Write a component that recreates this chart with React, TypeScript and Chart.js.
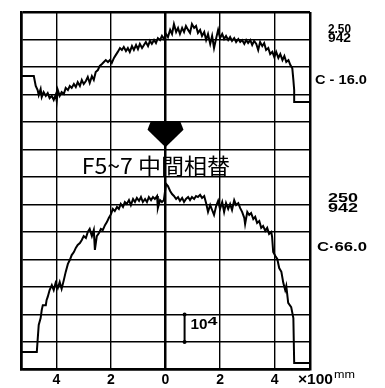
import React, { useEffect, useRef } from 'react';
import { Chart, registerables } from 'chart.js';

Chart.register(...registerables);

// ---- axes ----
const X_MIN = -5.3;
const X_MAX = 5.3;
const Y_MIN = 0;
const Y_MAX = 13;
const xTickValues = [-5.3, -4, -2, 0, 2, 4, 5.3];

// ---- upper trace (C-16.0) ----
const topX = [-5.3, -4.83, -4.76, -4.69, -4.65, -4.58, -4.54, -4.47, -4.39, -4.32, -4.25, -4.17, -4.1, -4.03, -3.99, -3.95, -3.88, -3.81, -3.73, -3.66, -3.58, -3.51, -3.44, -3.36, -3.29, -3.22, -3.14, -3.07, -3.0, -2.92, -2.85, -2.78, -2.7, -2.63, -2.56, -2.48, -2.41, -2.33, -2.26, -2.19, -2.11, -2.04, -1.97, -1.89, -1.82, -1.75, -1.67, -1.6, -1.53, -1.45, -1.38, -1.31, -1.23, -1.16, -1.08, -1.01, -0.94, -0.86, -0.79, -0.72, -0.64, -0.57, -0.5, -0.42, -0.35, -0.28, -0.2, -0.13, -0.06, 0.02, 0.09, 0.17, 0.24, 0.31, 0.39, 0.46, 0.53, 0.61, 0.68, 0.75, 0.83, 0.9, 0.97, 1.05, 1.12, 1.19, 1.27, 1.34, 1.42, 1.49, 1.56, 1.64, 1.71, 1.78, 1.86, 1.93, 2.0, 2.08, 2.15, 2.22, 2.3, 2.37, 2.44, 2.52, 2.59, 2.67, 2.74, 2.81, 2.89, 2.96, 3.03, 3.11, 3.18, 3.25, 3.33, 3.4, 3.47, 3.55, 3.62, 3.69, 3.77, 3.84, 3.92, 3.99, 4.06, 4.14, 4.21, 4.29, 4.36, 4.43, 4.51, 4.58, 4.65, 4.69, 4.72, 4.72, 5.3];
const topY = [10.67, 10.67, 10.31, 10.16, 9.98, 10.2, 9.91, 10.09, 9.95, 10.05, 9.87, 9.95, 9.8, 9.98, 9.76, 10.16, 9.95, 10.09, 10.02, 10.24, 10.16, 10.31, 10.24, 10.38, 10.27, 10.45, 10.31, 10.53, 10.38, 10.49, 10.64, 10.42, 10.67, 10.53, 10.82, 10.89, 11.04, 11.11, 11.18, 11.25, 11.18, 11.25, 11.15, 11.33, 11.44, 11.55, 11.69, 11.62, 11.73, 11.58, 11.69, 11.55, 11.76, 11.62, 11.8, 11.65, 11.84, 11.69, 11.8, 11.91, 11.76, 11.95, 11.84, 11.98, 11.87, 12.05, 11.98, 12.13, 12.02, 12.2, 12.09, 12.35, 12.2, 12.56, 12.27, 12.42, 12.2, 12.42, 12.27, 12.49, 12.35, 12.24, 12.56, 12.42, 12.49, 12.24, 12.35, 12.13, 12.27, 11.98, 12.2, 11.84, 12.13, 11.69, 12.05, 12.35, 12.05, 12.2, 12.02, 12.13, 11.98, 12.09, 11.95, 12.05, 11.91, 12.02, 11.91, 11.98, 11.84, 11.98, 11.87, 11.98, 11.8, 11.95, 11.84, 11.62, 11.91, 11.76, 11.87, 11.62, 11.69, 11.47, 11.55, 11.36, 11.55, 11.33, 11.47, 11.25, 11.4, 11.18, 11.25, 11.07, 10.96, 10.53, 10.16, 9.73, 9.73];

// ---- lower trace (C-66.0) ----
const botX = [-5.3, -4.72, -4.69, -4.65, -4.58, -4.54, -4.5, -4.39, -4.36, -4.32, -4.25, -4.17, -4.1, -4.03, -3.95, -3.88, -3.81, -3.73, -3.66, -3.58, -3.51, -3.44, -3.36, -3.29, -3.22, -3.14, -3.07, -3.0, -2.92, -2.85, -2.78, -2.7, -2.63, -2.59, -2.52, -2.44, -2.37, -2.3, -2.22, -2.15, -2.08, -2.0, -1.93, -1.86, -1.78, -1.71, -1.64, -1.56, -1.49, -1.42, -1.34, -1.27, -1.19, -1.12, -1.05, -0.97, -0.9, -0.83, -0.75, -0.68, -0.61, -0.53, -0.46, -0.39, -0.31, -0.28, -0.2, -0.13, -0.06, 0.02, 0.09, 0.17, 0.24, 0.31, 0.39, 0.46, 0.53, 0.61, 0.68, 0.75, 0.83, 0.9, 0.97, 1.05, 1.12, 1.19, 1.27, 1.34, 1.42, 1.49, 1.56, 1.64, 1.71, 1.78, 1.86, 1.93, 2.0, 2.08, 2.15, 2.22, 2.3, 2.37, 2.44, 2.52, 2.59, 2.67, 2.74, 2.81, 2.89, 2.92, 3.0, 3.07, 3.14, 3.22, 3.29, 3.36, 3.44, 3.51, 3.58, 3.66, 3.73, 3.8, 3.88, 3.91, 3.95, 4.03, 4.1, 4.17, 4.25, 4.32, 4.39, 4.43, 4.5, 4.61, 4.69, 4.72, 5.3];
const botY = [0.64, 0.64, 1.07, 1.62, 1.87, 2.16, 2.34, 2.34, 2.53, 2.64, 2.89, 3.07, 2.89, 3.15, 2.96, 3.18, 2.93, 3.25, 3.55, 3.84, 3.98, 4.16, 4.27, 4.42, 4.53, 4.6, 4.71, 4.85, 4.78, 5.0, 5.11, 4.85, 5.07, 4.35, 4.85, 4.96, 5.11, 5.07, 5.25, 5.36, 5.51, 5.65, 5.84, 5.76, 5.91, 5.84, 6.02, 5.91, 6.09, 6.02, 6.16, 5.98, 6.2, 6.09, 6.24, 6.13, 6.27, 6.09, 6.2, 6.09, 6.27, 6.16, 6.27, 6.2, 6.31, 5.87, 6.16, 6.09, 6.16, 6.75, 6.67, 6.49, 6.38, 6.31, 6.2, 6.27, 6.13, 6.24, 6.09, 6.2, 6.27, 6.16, 6.27, 6.2, 6.31, 6.27, 6.35, 6.24, 6.31, 6.05, 5.73, 5.98, 5.8, 5.62, 5.95, 6.13, 5.84, 6.09, 5.73, 6.05, 5.84, 6.02, 5.8, 6.16, 5.98, 6.05, 5.87, 5.73, 5.51, 5.29, 5.73, 5.62, 5.69, 5.47, 5.55, 5.33, 5.4, 5.15, 5.22, 5.04, 5.15, 4.93, 5.0, 4.82, 4.27, 4.13, 4.02, 3.69, 3.55, 3.15, 2.89, 3.04, 2.42, 2.27, 1.87, 0.24, 0.24];

// ---- texts ----
const topLabels = ['2.50', '942', 'C - 16.0'];
const topLabelY = [12.35, 12.02, 10.53];
const botLabels = ['250', '942', 'C\u00b766.0'];
const botLabelY = [6.2, 5.84, 4.44];
const middleLabel = 'F5~7 中間相替';
const scaleBarLabel = '10';
const scaleBarSup = '4';
const unitLabel = '\u00d7100';
const unitSup = 'mm';

const INK = '#000000';

function fitText(ctx: CanvasRenderingContext2D, text: string, x: number, y: number, width: number, font: string, baseline: CanvasTextBaseline = 'middle') {
  ctx.save();
  ctx.font = font;
  const w = ctx.measureText(text).width;
  ctx.translate(x, y);
  ctx.scale(width / w, 1);
  ctx.textAlign = 'left';
  ctx.textBaseline = baseline;
  ctx.fillStyle = INK;
  ctx.fillText(text, 0, 0);
  ctx.restore();
}

const annotations = {
  id: 'annotations',
  afterDatasetsDraw(chart: any) {
    const { ctx, chartArea, scales } = chart;
    const xs = scales.x;
    const ys = scales.y;
    const R = chartArea.right;
    const LBL = "bold 12px 'Liberation Sans', Arial, sans-serif";

    // right-side labels
    fitText(ctx, topLabels[0], R + 18, ys.getPixelForValue(topLabelY[0]), 23, LBL);
    fitText(ctx, topLabels[1], R + 18, ys.getPixelForValue(topLabelY[1]), 23, LBL);
    fitText(ctx, topLabels[2], R + 5, ys.getPixelForValue(topLabelY[2]), 52, "bold 13px 'Liberation Sans', Arial, sans-serif");
    fitText(ctx, botLabels[0], R + 18, ys.getPixelForValue(botLabelY[0]), 30, LBL);
    fitText(ctx, botLabels[1], R + 18, ys.getPixelForValue(botLabelY[1]), 30, LBL);
    fitText(ctx, botLabels[2], R + 7, ys.getPixelForValue(botLabelY[2]), 50, "bold 13px 'Liberation Sans', Arial, sans-serif");

    // arrow
    const cx = xs.getPixelForValue(0);
    const ux = xs.getPixelForValue(1) - cx;
    ctx.save();
    ctx.fillStyle = INK;
    ctx.beginPath();
    ctx.moveTo(cx - 0.55 * ux, ys.getPixelForValue(9.0));
    ctx.lineTo(cx + 0.55 * ux, ys.getPixelForValue(9.0));
    ctx.lineTo(cx + 0.66 * ux, ys.getPixelForValue(8.72));
    ctx.lineTo(cx, ys.getPixelForValue(8.08));
    ctx.lineTo(cx - 0.66 * ux, ys.getPixelForValue(8.72));
    ctx.closePath();
    ctx.fill();
    ctx.restore();

    // middle label
    const ml = xs.getPixelForValue(-3.07);
    const mr = xs.getPixelForValue(2.37);
    fitText(ctx, middleLabel, ml, ys.getPixelForValue(7.1), mr - ml, "22px 'Noto Sans CJK JP', sans-serif", 'alphabetic');

    // scale bar 10^4
    const bx = xs.getPixelForValue(0.7);
    const b1 = ys.getPixelForValue(2);
    const b0 = ys.getPixelForValue(1);
    ctx.save();
    ctx.strokeStyle = INK;
    ctx.fillStyle = INK;
    ctx.lineWidth = 2;
    ctx.beginPath();
    ctx.moveTo(bx, b1);
    ctx.lineTo(bx, b0);
    ctx.stroke();
    ctx.beginPath(); ctx.arc(bx, b1, 2, 0, Math.PI * 2); ctx.fill();
    ctx.beginPath(); ctx.arc(bx, b0, 2, 0, Math.PI * 2); ctx.fill();
    ctx.restore();
    const tx = xs.getPixelForValue(0.92);
    fitText(ctx, scaleBarLabel, tx, ys.getPixelForValue(1.6), 17, "bold 14px 'Liberation Sans', Arial, sans-serif");
    fitText(ctx, scaleBarSup, tx + 17, ys.getPixelForValue(1.73), 10, "bold 11px 'Liberation Sans', Arial, sans-serif");

    // x unit label
    const yl = chartArea.bottom + 10.5;
    fitText(ctx, unitLabel, R - 12, yl, 35, "bold 14px 'Liberation Sans', Arial, sans-serif");
    fitText(ctx, unitSup, R + 24, yl - 5, 21, "10px 'Liberation Sans', Arial, sans-serif");
  },
};

export default function App() {
  const canvasRef = useRef<HTMLCanvasElement | null>(null);

  useEffect(() => {
    const canvas = canvasRef.current;
    if (!canvas) return;
    const topPoints = topX.map((x, i) => ({ x, y: topY[i] }));
    const botPoints = botX.map((x, i) => ({ x, y: botY[i] }));

    const chart = new Chart(canvas, {
      type: 'line',
      data: {
        datasets: [
          { label: 'C-16.0', data: topPoints, borderColor: INK, borderWidth: 2, pointRadius: 0, tension: 0, fill: false },
          { label: 'C-66.0', data: botPoints, borderColor: INK, borderWidth: 2, pointRadius: 0, tension: 0, fill: false },
        ],
      },
      options: {
        responsive: false,
        animation: false,
        events: [],
        layout: { padding: { left: 21, right: 75, top: 12, bottom: 0 } },
        plugins: { legend: { display: false }, tooltip: { enabled: false }, title: { display: false } },
        scales: {
          x: {
            type: 'linear',
            min: X_MIN,
            max: X_MAX,
            afterBuildTicks: (axis: any) => {
              axis.ticks = xTickValues.map((v) => ({ value: v }));
            },
            afterFit: (scale: any) => {
              scale.height = 18.5;
            },
            grid: {
              color: INK,
              drawTicks: false,
              lineWidth: (c: any) => {
                const v = c.tick ? c.tick.value : 0;
                if (v === 0 || Math.abs(v) === 5.3) return 2.5;
                return 1.4;
              },
            },
            border: { display: true, color: INK, width: 2.5 },
            ticks: {
              color: INK,
              padding: 0,
              font: { family: "'Liberation Sans', Arial, sans-serif", size: 14, weight: 'bold', lineHeight: 1.5 },
              maxRotation: 0,
              autoSkip: false,
              callback: (v: any) => (Number.isInteger(v) ? String(Math.abs(v)) : ''),
            },
          },
          y: {
            type: 'linear',
            min: Y_MIN,
            max: Y_MAX,
            afterFit: (scale: any) => {
              scale.width = 0;
            },
            grid: {
              color: INK,
              drawTicks: false,
              lineWidth: (c: any) => {
                const v = c.tick ? c.tick.value : 0;
                return v === Y_MAX ? 2.5 : 1.6;
              },
            },
            border: { display: true, color: INK, width: 2.5 },
            ticks: { display: false, stepSize: 1 },
          },
        },
      },
      plugins: [annotations],
    });

    return () => chart.destroy();
  }, []);

  return (
    <div style={{ position: 'absolute', left: 0, top: 0, width: 385, height: 388, background: '#fff' }}>
      <canvas ref={canvasRef} width={385} height={388} style={{ display: 'block' }} />
    </div>
  );
}
